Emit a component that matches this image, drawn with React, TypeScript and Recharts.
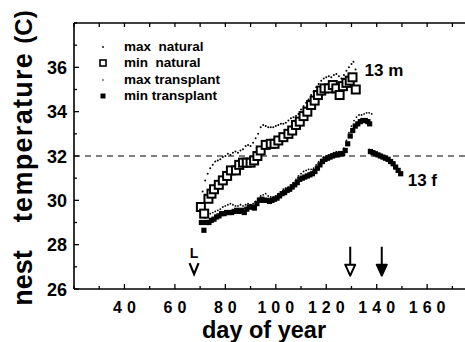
import React from 'react';
import { ScatterChart, Scatter, XAxis, YAxis, ReferenceLine, Legend } from 'recharts';

// ---- data ----
const minNaturalDays = [70.3, 71.6, 73.3, 74.5, 75.5, 77.4, 79, 80.7, 82.2, 84.2, 85.5, 87, 88.5, 90, 91.4, 92.7, 94, 96, 98, 99.5, 101, 103, 105, 106.5, 108, 109.5, 111, 112.5, 114, 115.4, 116.7, 118, 119.3, 121, 122.6, 124, 125.3, 126.6, 128, 129.3, 130.4, 131.7];
const minNaturalTemps = [29.7, 29.4, 30.07, 30.3, 30.5, 30.7, 30.9, 31.1, 31.35, 31.35, 31.6, 31.7, 31.7, 31.7, 31.8, 32.0, 32.25, 32.5, 32.55, 32.55, 32.7, 32.85, 33.0, 33.15, 33.4, 33.55, 33.8, 34.0, 34.3, 34.5, 34.75, 34.95, 35.05, 35.05, 35.2, 35.05, 34.75, 35.15, 35.3, 35.4, 35.55, 35.0];

const maxNaturalDays = [71, 72, 73, 74, 75, 76, 77, 78, 79, 80, 81, 82, 83, 84, 85, 86, 87, 88, 89, 90, 91, 92, 93, 94, 95, 96, 97, 98, 99, 100, 101, 102, 103, 104, 105, 106, 107, 108, 109, 110, 111, 112, 113, 114, 115, 116, 117, 118, 119, 120, 121, 122, 123, 124, 125, 126, 127, 128, 129, 130, 130.8, 131.6];
const maxNaturalTemps = [30.4, 30.9, 31.2, 31.45, 31.6, 31.75, 31.8, 31.85, 31.95, 32.0, 32.1, 32.05, 32.15, 32.2, 32.15, 32.25, 32.3, 32.45, 32.5, 32.45, 32.6, 32.8, 33.0, 33.3, 33.4, 33.35, 33.3, 33.3, 33.3, 33.35, 33.4, 33.45, 33.45, 33.5, 33.6, 33.7, 33.75, 33.8, 33.9, 34.1, 34.25, 34.4, 34.55, 34.75, 34.9, 35.1, 35.25, 35.4, 35.5, 35.55, 35.6, 35.55, 35.65, 35.7, 35.6, 35.5, 35.65, 35.85, 36.0, 36.15, 36.25, 35.9];

const minTransplantDays = [70.5, 71.5, 72.5, 73.5, 74.5, 75.5, 76.5, 77.5, 78.5, 79.5, 80.5, 81.5, 82.5, 83.5, 84.5, 85.5, 86.5, 87.5, 88.5, 89.5, 90.5, 91.5, 92.5, 93.5, 94.5, 95.5, 96.5, 97.5, 98.5, 99.5, 100.5, 101.5, 102.5, 103.5, 104.5, 105.5, 106.5, 107.5, 108.5, 109.5, 110.5, 111.5, 112.5, 113.5, 114.5, 115.5, 116.5, 117.5, 118.5, 119.5, 120.5, 121.5, 122.5, 123.5, 124.5, 125.5, 126.5, 127.5, 128.5, 129.5, 130.5, 131.5, 132.5, 133.5, 134.5, 135.5, 136.5, 137.2,
  137.5, 138.5, 139.5, 140.5, 141.5, 142.5, 143.5, 144.5, 145.5, 146.5, 147.5, 148.5, 149.5];
const minTransplantTemps = [29.0, 28.65, 29.0, 29.0, 29.1, 29.15, 29.25, 29.3, 29.4, 29.4, 29.45, 29.45, 29.45, 29.5, 29.55, 29.5, 29.55, 29.45, 29.6, 29.7, 29.7, 29.65, 29.85, 30.0, 30.05, 30.0, 30.0, 29.95, 30.0, 30.05, 30.1, 30.2, 30.3, 30.35, 30.45, 30.5, 30.6, 30.7, 30.8, 30.95, 31.0, 31.05, 31.1, 31.15, 31.2, 31.3, 31.45, 31.6, 31.75, 31.85, 31.9, 31.95, 32.0, 32.05, 32.05, 32.1, 32.1, 32.25, 32.55, 32.9, 33.15, 33.35, 33.45, 33.55, 33.6, 33.6, 33.55, 33.45,
  32.2, 32.15, 32.1, 32.05, 32.0, 31.95, 31.9, 31.85, 31.75, 31.65, 31.5, 31.35, 31.2];

const maxTransplantDays = [71, 72, 73, 74, 75, 76, 77, 78, 79, 80, 81, 82, 83, 84, 85, 86, 87, 88, 89, 90, 91, 92, 93, 94, 95, 96, 97, 98, 99, 100, 101, 102, 103, 104, 105, 106, 107, 108, 109, 110, 111, 112, 113, 114, 115, 116, 117, 118, 119, 120, 121, 122, 123, 124, 125, 126, 127, 128, 129, 130, 131, 132, 133, 134, 135, 136, 137, 138,
  137, 138, 139, 140, 141, 142, 143, 144, 145, 146, 147, 148, 149];
const maxTransplantTemps = [29.35, 29.2, 29.3, 29.4, 29.45, 29.5, 29.55, 29.6, 29.7, 29.75, 29.8, 29.85, 29.8, 29.75, 29.75, 29.8, 29.75, 29.8, 29.85, 29.8, 29.85, 29.95, 30.1, 30.2, 30.25, 30.3, 30.2, 30.15, 30.15, 30.2, 30.3, 30.35, 30.5, 30.55, 30.6, 30.7, 30.8, 30.95, 31.1, 31.2, 31.3, 31.35, 31.4, 31.4, 31.45, 31.6, 31.75, 31.85, 31.95, 32.0, 32.05, 32.1, 32.15, 32.2, 32.2, 32.2, 32.35, 32.7, 33.05, 33.35, 33.6, 33.75, 33.85, 33.85, 33.9, 33.95, 33.95, 33.9,
  32.3, 32.25, 32.2, 32.15, 32.1, 32.05, 32.0, 31.95, 31.9, 31.8, 31.7, 31.55, 31.4];

const xTicks = [20, 30, 40, 50, 60, 70, 80, 90, 100, 110, 120, 130, 140, 150, 160, 170];
const xLabelled = [40, 60, 80, 100, 120, 140, 160];
const yTicks = [26, 27, 28, 29, 30, 31, 32, 33, 34, 35, 36, 37, 38];
const yLabelled = [26, 28, 30, 32, 34, 36];
const threshold = 32;

// annotations in data coordinates
const arrowMarks = [
  { day: 129.5, temp: 26.6, kind: 'open' },
  { day: 142, temp: 26.6, kind: 'filled' },
];
const layMark = [{ day: 67.6, temp: 26.9, label: 'L' }];
const seriesLabels = [
  { day: 135.2, temp: 35.9, label: '13 m' },
  { day: 152.3, temp: 30.9, label: '13 f' },
];

const legendItems = ['max  natural', 'min  natural', 'max transplant', 'min transplant'];

const zip = (d: number[], t: number[]) => d.map((day, i) => ({ day, temp: t[i] }));
const minNatural = zip(minNaturalDays, minNaturalTemps);
const maxNatural = zip(maxNaturalDays, maxNaturalTemps);
const minTransplant = zip(minTransplantDays, minTransplantTemps);
const maxTransplant = zip(maxTransplantDays, maxTransplantTemps);

const FONT = '"Liberation Sans", Arial, Helvetica, sans-serif';

const XTick = (props: any) => {
  const { x, y, payload } = props;
  const v = payload.value;
  const major = xLabelled.includes(v);
  return (
    <g>
      <line x1={x} x2={x} y1={y} y2={y - (major ? 5 : 3)} stroke="#000" strokeWidth={1.3} />
      {major && (
        <text x={x + 2.5} y={y + 24} textAnchor="middle" fontFamily={FONT} fontWeight="bold" fontSize={16} letterSpacing={5} fill="#000">
          {v}
        </text>
      )}
    </g>
  );
};

const TopTick = (props: any) => {
  const { x, y } = props;
  return <line x1={x} x2={x} y1={y} y2={y + 4} stroke="#000" strokeWidth={1.3} />;
};

const YTick = (props: any) => {
  const { x, y, payload } = props;
  const v = payload.value;
  const major = yLabelled.includes(v);
  return (
    <g>
      <line x1={x} x2={x + (major ? 5 : 3)} y1={y} y2={y} stroke="#000" strokeWidth={1.3} />
      {major && (
        <text x={x - 7} y={y + 6.5} textAnchor="end" fontFamily={FONT} fontWeight="bold" fontSize={18} fill="#000">
          {v}
        </text>
      )}
    </g>
  );
};

const OpenSquare = (p: any) => (
  <rect x={p.cx - 4} y={p.cy - 4} width={8} height={8} fill="#fff" stroke="#000" strokeWidth={2} />
);
const FilledSquare = (p: any) => (
  <rect x={p.cx - 2.6} y={p.cy - 2.6} width={5.2} height={5.2} fill="#000" />
);
const SmallDot = (p: any) => <circle cx={p.cx} cy={p.cy} r={1} fill="#000" />;
const TinyDot = (p: any) => <circle cx={p.cx} cy={p.cy} r={0.9} fill="#000" />;

const Arrow = (p: any) => {
  const { cx, cy, payload } = p;
  const open = payload.kind === 'open';
  return (
    <g>
      <line x1={cx} x2={cx} y1={cy - 29} y2={cy - 8} stroke="#000" strokeWidth={2} />
      <path d={`M${cx - 5},${cy - 11} L${cx + 5},${cy - 11} L${cx},${cy} Z`} fill={open ? '#fff' : '#000'} stroke="#000" strokeWidth={2} strokeLinejoin="round" />
    </g>
  );
};

const LayMark = (p: any) => {
  const { cx, cy, payload } = p;
  return (
    <g>
      <text x={cx} y={cy - 11} textAnchor="middle" fontFamily={FONT} fontWeight="bold" fontSize={14} fill="#000">
        {payload.label}
      </text>
      <path d={`M${cx - 4.5},${cy - 6} L${cx},${cy + 5} L${cx + 4.5},${cy - 6}`} fill="none" stroke="#000" strokeWidth={2.2} />
    </g>
  );
};

const SeriesLabel = (p: any) => {
  const { cx, cy, payload } = p;
  return (
    <text x={cx} y={cy + 6} textAnchor="start" fontFamily={FONT} fontWeight="bold" fontSize={17} fill="#000">
      {payload.label}
    </text>
  );
};

const LegendContent = () => {
  const symbols = [
    <circle cx={5} cy={5} r={0.9} fill="#000" />,
    <rect x={2} y={2} width={6} height={6} fill="#fff" stroke="#000" strokeWidth={1.6} />,
    <circle cx={5} cy={5} r={0.8} fill="#000" />,
    <rect x={2.5} y={2.5} width={5} height={5} fill="#000" />,
  ];
  return (
    <div style={{ fontFamily: FONT, fontWeight: 'bold', fontSize: 13.5, lineHeight: '16.3px', color: '#000' }}>
      {legendItems.map((t, i) => (
        <div key={t} style={{ display: 'flex', alignItems: 'center', height: 16.3 }}>
          <svg width={10} height={10} style={{ marginRight: 16 }}>{symbols[i]}</svg>
          <span style={{ whiteSpace: 'pre' }}>{t}</span>
        </div>
      ))}
    </div>
  );
};

export default function App() {
  return (
    <div style={{ position: 'absolute', left: 0, top: 0, width: 465, height: 342, background: '#fff' }}>
      <ScatterChart width={465} height={342} margin={{ top: 18, right: 0, bottom: 0, left: 0 }}>
        <XAxis
          xAxisId="b"
          dataKey="day"
          type="number"
          domain={[20, 175]}
          ticks={xTicks}
          interval={0}
          allowDataOverflow
          height={53}
          tickSize={0}
          tickMargin={0}
          tickLine={false}
          axisLine={{ stroke: '#000', strokeWidth: 1.6 }}
          tick={<XTick />}
        />
        <XAxis
          xAxisId="t"
          orientation="top"
          dataKey="day"
          type="number"
          domain={[20, 175]}
          ticks={xTicks}
          interval={0}
          allowDataOverflow
          height={5}
          tickSize={0}
          tickMargin={0}
          tickLine={false}
          axisLine={{ stroke: '#000', strokeWidth: 1.6 }}
          tick={<TopTick />}
        />
        <YAxis
          dataKey="temp"
          type="number"
          domain={[26, 38]}
          ticks={yTicks}
          interval={0}
          allowDataOverflow
          width={74}
          tickSize={0}
          tickMargin={0}
          tickLine={false}
          axisLine={{ stroke: '#000', strokeWidth: 1.6 }}
          tick={<YTick />}
        />
        <ReferenceLine xAxisId="b" y={threshold} stroke="#000" strokeWidth={1.2} strokeDasharray="6 5" />
        <Scatter xAxisId="b" name="max natural" data={maxNatural} shape={<SmallDot />} isAnimationActive={false} />
        <Scatter xAxisId="b" name="max transplant" data={maxTransplant} shape={<TinyDot />} isAnimationActive={false} />
        <Scatter xAxisId="b" name="min transplant" data={minTransplant} shape={<FilledSquare />} isAnimationActive={false} />
        <Scatter xAxisId="b" name="min natural" data={minNatural} shape={<OpenSquare />} isAnimationActive={false} />
        <Scatter xAxisId="b" name="arrows" data={arrowMarks} shape={<Arrow />} isAnimationActive={false} legendType="none" />
        <Scatter xAxisId="b" name="lay" data={layMark} shape={<LayMark />} isAnimationActive={false} legendType="none" />
        <Scatter xAxisId="b" name="labels" data={seriesLabels} shape={<SeriesLabel />} isAnimationActive={false} legendType="none" />
        <Legend
          layout="vertical"
          verticalAlign="middle"
          align="center"
          content={<LegendContent />}
          wrapperStyle={{ left: 98, top: 39, width: 'auto' }}
        />
      </ScatterChart>
      <svg width={465} height={342} style={{ position: 'absolute', left: 0, top: 0, pointerEvents: 'none' }}>
        <g fontFamily={FONT} fontWeight="bold" fill="#000">
          <text transform="translate(32,278) rotate(-90)" textAnchor="middle" fontSize={27}>nest</text>
          <text transform="translate(32,137) rotate(-90)" textAnchor="middle" fontSize={27} letterSpacing={1.3}>temperature</text>
          <text transform="translate(32,27) rotate(-90)" textAnchor="middle" fontSize={24}>(C)</text>
          <text x={264} y={338} textAnchor="middle" fontSize={23.5}>day of year</text>
        </g>
      </svg>
    </div>
  );
}
